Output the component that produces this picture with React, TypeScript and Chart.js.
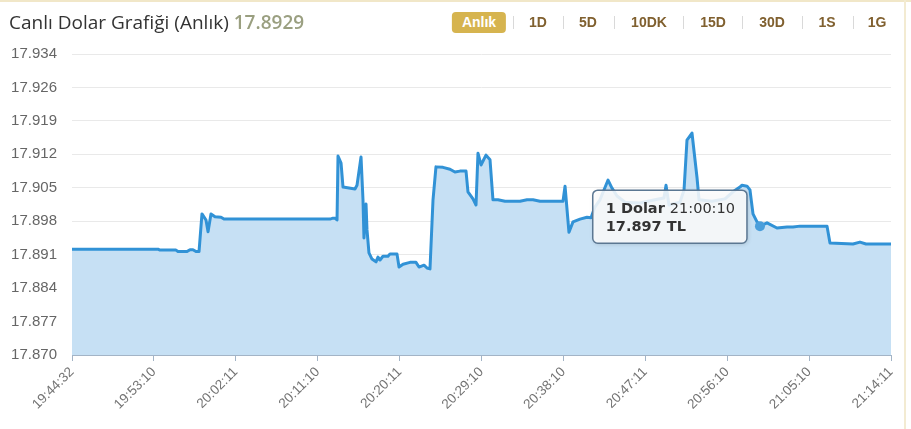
import React, { useEffect, useRef } from "react";
import { Chart, registerables } from "chart.js";

Chart.register(...registerables);

const titleText = "Canlı Dolar Grafiği (Anlık)";
const currentRate = "17.8929";
const periods = ["Anlık", "1D", "5D", "10DK", "15D", "30D", "1S", "1G"];
const periodCenters = [479, 538, 588, 649, 713, 772, 827, 877];
const separatorXs = [513, 563, 614, 683, 742, 802, 853];

const xTickLabels = [
  "19:44:32", "19:53:10", "20:02:11", "20:11:10", "20:20:11", "20:29:10",
  "20:38:10", "20:47:11", "20:56:10", "21:05:10", "21:14:11",
];
const yTickLabels = [
  "17.870", "17.877", "17.884", "17.891", "17.898", "17.905",
  "17.912", "17.919", "17.926", "17.934",
];
const yMin = 17.87;
const yMax = 17.934;

// position along the time axis, in tick-interval units (0 = 19:44:32, 10 = 21:14:11)
const positions = [
  0, 1.05, 1.074, 1.27, 1.294, 1.404, 1.441, 1.477, 1.514, 1.551,
  1.587, 1.636, 1.661, 1.697, 1.746, 1.819, 1.856, 3.15, 3.187, 3.211,
  3.236, 3.248, 3.285, 3.309, 3.455, 3.48, 3.529, 3.553, 3.565, 3.59,
  3.602, 3.626, 3.663, 3.712, 3.736, 3.761, 3.797, 3.858, 3.883, 3.968,
  3.993, 4.042, 4.127, 4.2, 4.237, 4.298, 4.335, 4.371, 4.408, 4.444,
  4.53, 4.615, 4.676, 4.737, 4.811, 4.835, 4.896, 4.933, 4.957, 4.994,
  5.055, 5.104, 5.14, 5.201, 5.287, 5.47, 5.556, 5.629, 5.714, 5.995,
  6.02, 6.068, 6.117, 6.203, 6.288, 6.337, 6.386, 6.447, 6.545, 6.593,
  6.655, 6.752, 6.935, 7.118, 7.228, 7.253, 7.289, 7.424, 7.473, 7.509,
  7.57, 7.631, 7.656, 7.814, 7.973, 8.071, 8.156, 8.181, 8.242, 8.278,
  8.315, 8.364, 8.4, 8.486, 8.608, 8.73, 8.803, 8.889, 9.219, 9.255,
  9.536, 9.621, 9.695, 10,
];
const rates = [
  17.8925, 17.8925, 17.8923, 17.8923, 17.892, 17.892, 17.8924, 17.8924, 17.892, 17.892,
  17.9, 17.8987, 17.8962, 17.9, 17.8994, 17.8993, 17.8989, 17.8989, 17.8991, 17.8991,
  17.8987, 17.9123, 17.9108, 17.9057, 17.9053, 17.9061, 17.9121, 17.903, 17.8949, 17.9021,
  17.8966, 17.8917, 17.8904, 17.8898, 17.8908, 17.8902, 17.891, 17.891, 17.8915, 17.8915,
  17.8887, 17.8893, 17.8897, 17.8897, 17.8887, 17.8891, 17.8885, 17.8883, 17.903, 17.91,
  17.9099, 17.9095, 17.9089, 17.9091, 17.9091, 17.9047, 17.9032, 17.9019, 17.9129, 17.9104,
  17.9125, 17.9115, 17.903, 17.903, 17.9027, 17.9027, 17.903, 17.903, 17.9027, 17.9027,
  17.9059, 17.8961, 17.8983, 17.8989, 17.8993, 17.8992, 17.9015, 17.903, 17.9072, 17.9055,
  17.9038, 17.9025, 17.9023, 17.903, 17.9034, 17.9061, 17.9019, 17.9025, 17.9051, 17.9157,
  17.9172, 17.9078, 17.903, 17.9027, 17.9032, 17.9047, 17.9057, 17.9061, 17.9059, 17.9051,
  17.9, 17.8983, 17.8974, 17.8981, 17.897, 17.8972, 17.8972, 17.8974, 17.8974, 17.8938,
  17.8936, 17.894, 17.8936, 17.8936,
];
const highlightPosition = 8.4;
const highlightTime = "21:00:10";
const seriesName = "1 Dolar";
const unit = "TL";

const LINE = "#3192d6";
const FILL = "#c6e0f4";
const AXIS = "#a3b4c6";

const staticTooltip = {
  id: "staticTooltip",
  afterDatasetsDraw(chart: any) {
    const idx = positions.indexOf(highlightPosition);
    const el = chart.getDatasetMeta(0).data[idx];
    if (!el) return;
    const x = el.x;
    const y = el.y;
    const ctx = chart.ctx;
    ctx.save();
    ctx.beginPath();
    ctx.arc(x, y, 5, 0, Math.PI * 2);
    ctx.fillStyle = "#4a9edb";
    ctx.fill();

    const bold = 'bold 14.5px "DejaVu Sans"';
    const normal = '14.5px "DejaVu Sans"';
    const first = seriesName + " ";
    ctx.font = bold;
    const w1 = ctx.measureText(first).width;
    ctx.font = normal;
    const w2 = ctx.measureText(highlightTime).width;
    const w = w1 + w2 + 25;
    const h = 53;
    const bx = x - 13 - w;
    const by = y - 36;

    ctx.shadowColor = "rgba(0,0,0,0.18)";
    ctx.shadowBlur = 4;
    ctx.shadowOffsetX = 1;
    ctx.shadowOffsetY = 1;
    ctx.beginPath();
    ctx.roundRect(bx, by, w, h, 5);
    ctx.fillStyle = "rgba(255,255,255,0.86)";
    ctx.fill();
    ctx.shadowColor = "transparent";
    ctx.lineWidth = 1.5;
    ctx.strokeStyle = "#5b7792";
    ctx.stroke();

    ctx.fillStyle = "#333333";
    ctx.textBaseline = "alphabetic";
    ctx.textAlign = "left";
    ctx.font = bold;
    ctx.fillText(first, bx + 13, by + 23);
    ctx.font = normal;
    ctx.fillText(highlightTime, bx + 13 + w1, by + 23);
    ctx.font = bold;
    ctx.fillText(rates[idx].toFixed(3) + " " + unit, bx + 13, by + 41);
    ctx.restore();
  },
};

function ChartCanvas() {
  const ref = useRef<HTMLCanvasElement | null>(null);
  useEffect(() => {
    if (!ref.current) return;
    const chart = new Chart(ref.current, {
      type: "line",
      data: {
        datasets: [
          {
            data: positions.map((p, i) => ({ x: p, y: rates[i] })),
            borderColor: LINE,
            backgroundColor: FILL,
            borderWidth: 3,
            fill: "start",
            pointRadius: 0,
            pointHoverRadius: 0,
            tension: 0,
            borderJoinStyle: "round",
            borderCapStyle: "round",
          },
        ],
      },
      options: {
        responsive: false,
        animation: false,
        devicePixelRatio: 1,
        events: [],
        layout: { padding: { top: 54, right: 20, left: 0, bottom: 0 } },
        plugins: { legend: { display: false }, tooltip: { enabled: false } },
        scales: {
          x: {
            type: "linear",
            min: 0,
            max: 10,
            afterBuildTicks: (scale: any) => {
              scale.ticks = xTickLabels.map((_, i) => ({ value: i }));
            },
            afterFit: (scale: any) => {
              scale.height = 74;
            },
            ticks: {
              callback: (_v: any, i: number) => xTickLabels[i],
              maxRotation: 45,
              minRotation: 45,
              autoSkip: false,
              padding: 3,
              color: "#737373",
              font: { family: '"Liberation Sans", Arial', size: 13.5 },
            },
            grid: {
              drawOnChartArea: false,
              drawTicks: true,
              tickLength: 6,
              color: AXIS,
              lineWidth: 1,
            },
            border: { display: true, color: AXIS, width: 1 },
          },
          y: {
            min: yMin,
            max: yMax,
            afterBuildTicks: (scale: any) => {
              scale.ticks = yTickLabels.map((_, i) => ({
                value: yMin + (i * (yMax - yMin)) / (yTickLabels.length - 1),
              }));
            },
            afterFit: (scale: any) => {
              scale.width = 72;
            },
            ticks: {
              callback: (_v: any, i: number) => yTickLabels[i],
              padding: 15,
              color: "#666666",
              font: { family: '"Liberation Sans", Arial', size: 15 },
            },
            grid: { color: "#e9e9e9", lineWidth: 1, drawTicks: false },
            border: { display: false },
          },
        },
      },
      plugins: [staticTooltip],
    });
    return () => chart.destroy();
  }, []);
  return (
    <canvas
      ref={ref}
      width={911}
      height={429}
      style={{ position: "absolute", left: 0, top: 0, width: 911, height: 429 }}
    />
  );
}

export default function App() {
  return (
    <div
      style={{
        position: "fixed",
        left: 0,
        top: 0,
        width: 911,
        height: 429,
        background: "#ffffff",
        overflow: "hidden",
      }}
    >
      <ChartCanvas />
      <div
        style={{
          position: "absolute",
          left: 0,
          top: 0,
          width: 911,
          height: 2,
          background: "#f1e7c8",
        }}
      />
      <div
        style={{
          position: "absolute",
          left: 904,
          top: 0,
          width: 2,
          height: 429,
          background: "#f3ebd2",
        }}
      />
      <div
        style={{
          position: "absolute",
          left: 9,
          top: 9,
          fontFamily: '"Open Sans", sans-serif',
          fontSize: 19,
          color: "#333333",
          whiteSpace: "nowrap",
          lineHeight: "26px",
        }}
      >
        {titleText}{" "}
        <span style={{ color: "#9a9f80", fontWeight: 600 }}>{currentRate}</span>
      </div>
      {periods.map((p, i) => (
        <div
          key={p}
          style={{
            position: "absolute",
            left: periodCenters[i],
            top: 12,
            transform: "translateX(-50%)",
            height: 21,
            lineHeight: "21px",
            padding: i === 0 ? "0 10px" : 0,
            borderRadius: 4,
            background: i === 0 ? "#d6b44f" : "transparent",
            color: i === 0 ? "#ffffff" : "#80602f",
            fontFamily: '"Liberation Sans", Arial, sans-serif',
            fontWeight: 700,
            fontSize: 14,
            whiteSpace: "nowrap",
          }}
        >
          {p}
        </div>
      ))}
      {separatorXs.map((x) => (
        <div
          key={x}
          style={{
            position: "absolute",
            left: x,
            top: 16,
            width: 1,
            height: 13,
            background: "#d9d9d9",
          }}
        />
      ))}
    </div>
  );
}
